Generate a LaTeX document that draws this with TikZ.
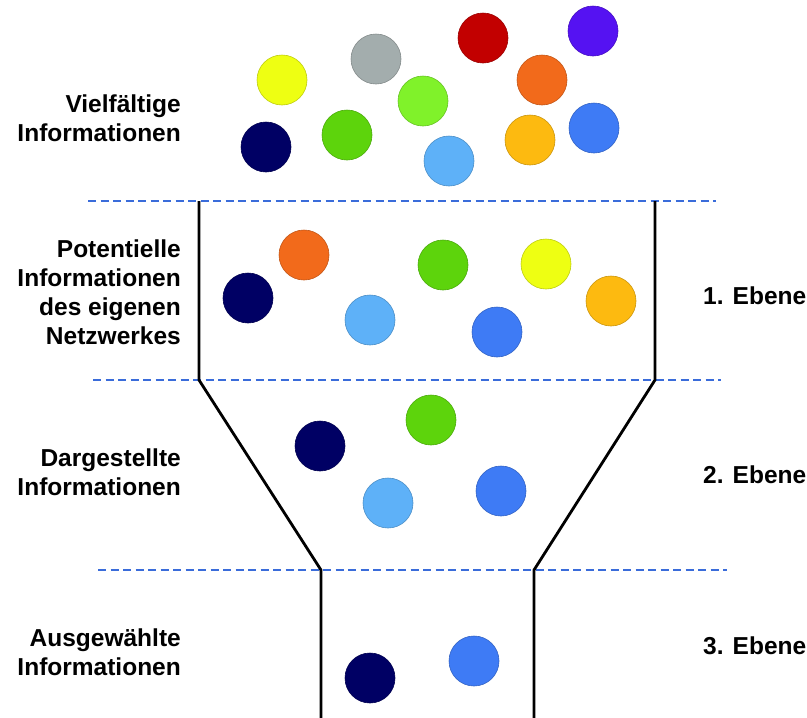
\documentclass[tikz,border=0pt]{standalone}
\usepackage{fontspec}
\setmainfont{Liberation Sans}
\usetikzlibrary{positioning}
\definecolor{navyball}{HTML}{000064}
\definecolor{yellowball}{HTML}{EEFF12}
\definecolor{grayball}{HTML}{A3ADAD}
\definecolor{redball}{HTML}{C20000}
\definecolor{purpleball}{HTML}{5512F2}
\definecolor{orangeball}{HTML}{F26A1B}
\definecolor{limeball}{HTML}{80F22A}
\definecolor{greenball}{HTML}{5DD40C}
\definecolor{skyball}{HTML}{5EB1F8}
\definecolor{amberball}{HTML}{FDBA10}
\definecolor{blueball}{HTML}{3E7BF5}
\definecolor{sepblue}{HTML}{3A6CDA}

\begin{document}
\begin{tikzpicture}[x=1pt, y=-1pt,
  ball/.style={circle, draw=#1!80!black, fill=#1, minimum size=50pt, inner sep=0pt, line width=0.6pt},
  stage/.style={anchor=east, align=right, inner sep=0pt, font=\fontsize{24.5}{29}\selectfont\bfseries},
  levelname/.style={anchor=west, inner sep=0pt, font=\fontsize{24.5}{29}\selectfont\bfseries},
  sep/.style={sepblue, line width=2.4pt, dash pattern=on 8pt off 4.5pt},
  wall/.style={black, line width=2.8pt}
]
  \useasboundingbox (0,0) rectangle (807,718);

  % separators between the levels
  \draw[sep] (88,201) -- (716,201);
  \draw[sep] (93,380) -- (721,380);
  \draw[sep] (98,570) -- (727,570);

  % funnel
  \draw[wall] (199,201) -- (199,380) -- (321,570) -- (321,718);
  \draw[wall] (655,201) -- (655,380) -- (534,570) -- (534,718);

  % labels
  \node[stage] (info) at (181,118.5) {Vielfältige\\Informationen};
  \node[stage] (pot) at (181,292.7) {Potentielle\\Informationen\\des eigenen\\Netzwerkes};
  \node[stage] (darg) at (181,472.3) {Dargestellte\\Informationen};
  \node[stage] (ausg) at (181,652.5) {Ausgewählte\\Informationen};

  \node[levelname] (lev1) at (703,296) {1. Ebene};
  \node[levelname] (lev2) at (703,475) {2. Ebene};
  \node[levelname] (lev3) at (703,646) {3. Ebene};

  % all information
  \node[ball=yellowball] (v1) at (282,80) {};
  \node[ball=grayball] (v2) at (376,59) {};
  \node[ball=redball] (v3) at (483,38) {};
  \node[ball=purpleball] (v4) at (593,31) {};
  \node[ball=orangeball] (v5) at (542,80) {};
  \node[ball=limeball] (v6) at (423,101) {};
  \node[ball=navyball] (v7) at (266,147) {};
  \node[ball=greenball] (v8) at (347,135) {};
  \node[ball=skyball] (v9) at (449,161) {};
  \node[ball=amberball] (v10) at (530,140) {};
  \node[ball=blueball] (v11) at (594,128) {};

  % level 1
  \node[ball=navyball] (p1) at (248,298) {};
  \node[ball=orangeball] (p2) at (304,255) {};
  \node[ball=skyball] (p3) at (370,320) {};
  \node[ball=greenball] (p4) at (443,265) {};
  \node[ball=blueball] (p5) at (497,332) {};
  \node[ball=yellowball] (p6) at (546,264) {};
  \node[ball=amberball] (p7) at (611,301) {};

  % level 2
  \node[ball=navyball] (d1) at (320,446) {};
  \node[ball=greenball] (d2) at (431,420) {};
  \node[ball=skyball] (d3) at (388,503) {};
  \node[ball=blueball] (d4) at (501,491) {};

  % level 3
  \node[ball=navyball] (a1) at (370,678) {};
  \node[ball=blueball] (a2) at (474,661) {};
\end{tikzpicture}
\end{document}
